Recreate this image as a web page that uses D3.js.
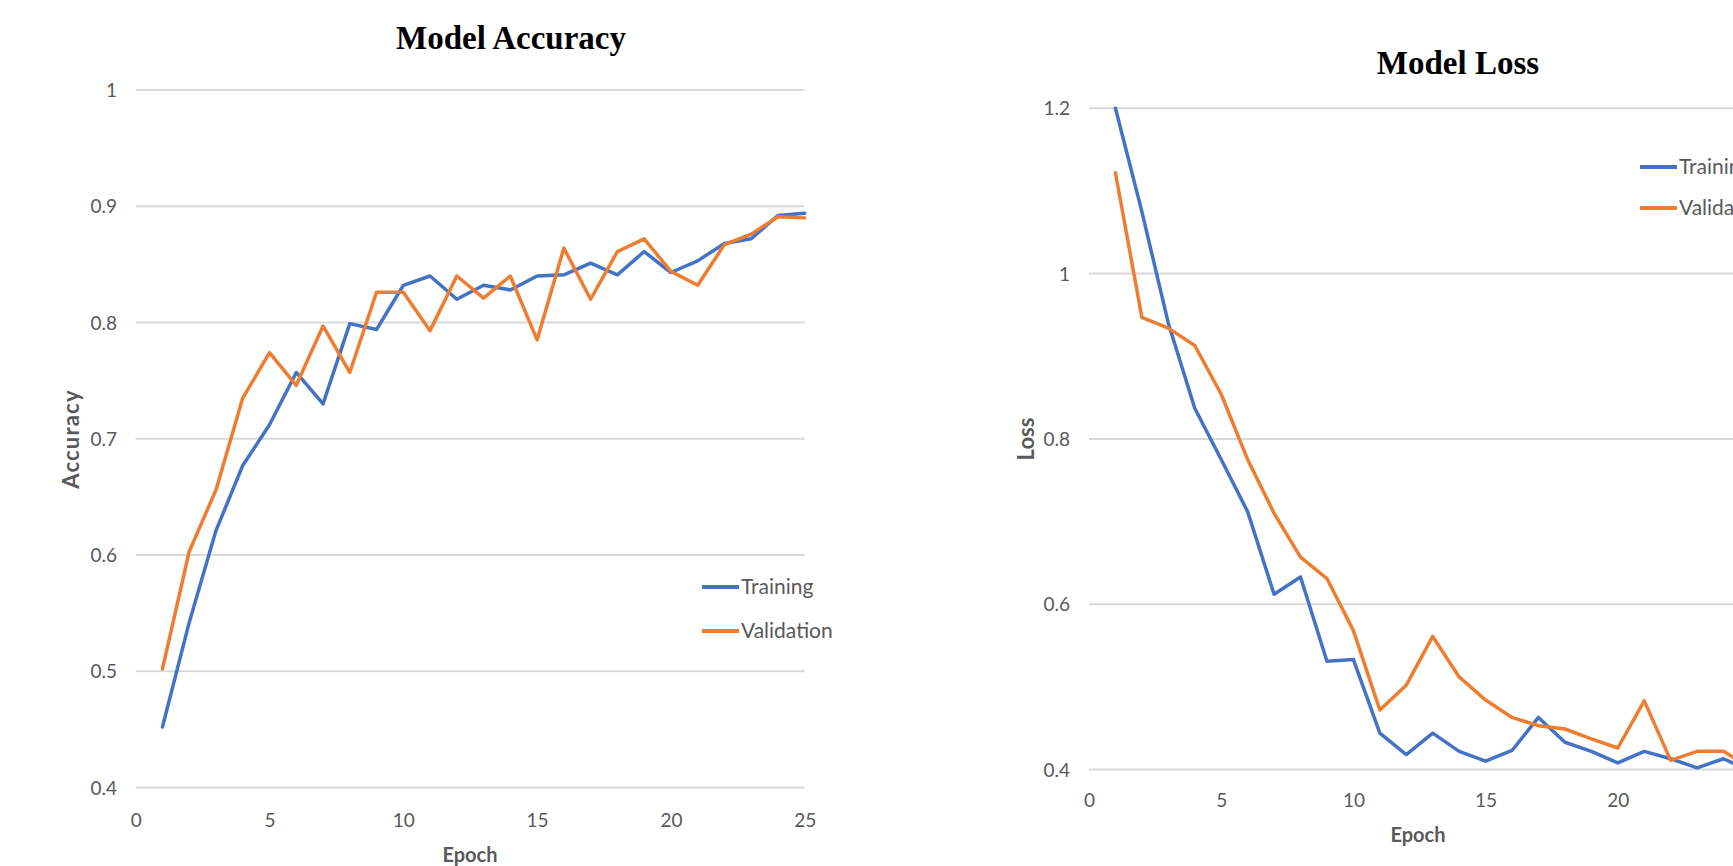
<!DOCTYPE html>
<html>
<head>
<meta charset="utf-8">
<script src="https://cdn.jsdelivr.net/npm/d3@7"></script>
<style>
  html, body { margin: 0; padding: 0; background: #ffffff; overflow: hidden; }
  svg { display: block; }
</style>
</head>
<body>
<svg id="chart" width="1733" height="866"></svg>
<script>
// ---------- data ----------
const epochs = d3.range(1, 26);
const accTraining = [0.452, 0.542, 0.621, 0.677, 0.712, 0.757, 0.730, 0.799, 0.794, 0.832,
                     0.840, 0.820, 0.832, 0.828, 0.840, 0.841, 0.851, 0.841, 0.861, 0.843,
                     0.853, 0.868, 0.872, 0.892, 0.894];
const accValidation = [0.502, 0.603, 0.656, 0.735, 0.774, 0.746, 0.797, 0.757, 0.826, 0.826,
                       0.793, 0.840, 0.821, 0.840, 0.785, 0.864, 0.820, 0.861, 0.872, 0.844,
                       0.832, 0.867, 0.876, 0.891, 0.890];
const lossTraining = [1.200, 1.075, 0.940, 0.837, 0.775, 0.712, 0.612, 0.633, 0.531, 0.533,
                      0.444, 0.418, 0.444, 0.422, 0.410, 0.423, 0.463, 0.433, 0.422, 0.408,
                      0.422, 0.413, 0.402, 0.413, 0.398];
const lossValidation = [1.122, 0.947, 0.934, 0.913, 0.854, 0.775, 0.710, 0.657, 0.631, 0.568,
                        0.472, 0.502, 0.561, 0.512, 0.484, 0.463, 0.453, 0.449, 0.437, 0.426,
                        0.483, 0.411, 0.422, 0.422, 0.402];
const xTicks = [0, 5, 10, 15, 20, 25];
const accTicks = [0.4, 0.5, 0.6, 0.7, 0.8, 0.9, 1];
const lossTicks = [0.4, 0.6, 0.8, 1, 1.2];
const seriesNames = ["Training", "Validation"];
const seriesColors = ["#4472C4", "#ED7D31"];

// ---------- drawing ----------
const svg = d3.select("#chart");
const tickFont = "Lato, 'Open Sans', sans-serif";
const gray = "#595959";

function drawPanel(cfg) {
  const g = svg.append("g");
  const x = d3.scaleLinear().domain([0, 25]).range([cfg.x0, cfg.x1]);
  const y = d3.scaleLinear().domain(cfg.yDomain).range([cfg.yBottom, cfg.yTop]);

  // gridlines
  g.append("g").selectAll("line").data(cfg.yTicks).join("line")
    .attr("x1", x(0)).attr("x2", x(25))
    .attr("y1", d => y(d)).attr("y2", d => y(d))
    .attr("stroke", "#d9d9d9").attr("stroke-width", 2);

  // y axis tick labels
  const yAxis = d3.axisLeft(y).tickValues(cfg.yTicks).tickSize(0).tickPadding(0)
    .tickFormat(d => String(d));
  const ya = g.append("g").attr("transform", `translate(${cfg.yLabelX},0)`).call(yAxis);
  ya.select(".domain").remove();
  ya.selectAll("text").attr("font-family", tickFont).attr("font-size", 19)
    .attr("fill", gray).attr("dy", "0.35em");

  // x axis tick labels
  const xAxis = d3.axisBottom(x).tickValues(xTicks).tickSize(0).tickPadding(0)
    .tickFormat(d => String(d));
  const xa = g.append("g").attr("transform", `translate(0,${cfg.xLabelY})`).call(xAxis);
  xa.select(".domain").remove();
  xa.selectAll("text").attr("font-family", tickFont).attr("font-size", 19)
    .attr("fill", gray).attr("dy", "0.35em");

  // lines
  const line = d3.line().x((d, i) => x(epochs[i])).y(d => y(d));
  cfg.series.forEach((s, i) => {
    g.append("path").datum(s).attr("d", line)
      .attr("fill", "none").attr("stroke", seriesColors[i])
      .attr("stroke-width", 3.5).attr("stroke-linejoin", "round").attr("stroke-linecap", "round");
  });

  // title
  g.append("text").attr("x", cfg.titleX).attr("y", cfg.titleY)
    .attr("text-anchor", "middle")
    .attr("font-family", "'Liberation Serif', 'Times New Roman', serif")
    .attr("font-weight", "bold").attr("font-size", 33).attr("fill", "#000")
    .text(cfg.title);

  // axis titles
  g.append("text").attr("x", cfg.xTitleX).attr("y", cfg.xTitleY)
    .attr("text-anchor", "middle").attr("font-family", tickFont)
    .attr("font-weight", "bold").attr("font-size", 20).attr("fill", gray)
    .text("Epoch");
  g.append("text")
    .attr("transform", `translate(${cfg.yTitleX},${cfg.yTitleY}) rotate(-90)`)
    .attr("text-anchor", "middle").attr("dy", "0.35em").attr("font-family", tickFont)
    .attr("font-weight", "bold").attr("font-size", 22).attr("fill", gray)
    .attr("letter-spacing", cfg.yTitleSpacing)
    .text(cfg.yTitle);

  // legend
  seriesNames.forEach((name, i) => {
    const ly = cfg.legendY + i * cfg.legendGap;
    g.append("line").attr("x1", cfg.legendX).attr("x2", cfg.legendX + 37)
      .attr("y1", ly).attr("y2", ly)
      .attr("stroke", seriesColors[i]).attr("stroke-width", 4);
    g.append("text").attr("x", cfg.legendX + 39).attr("y", ly).attr("dy", "0.35em")
      .attr("font-family", tickFont).attr("font-size", 21).attr("fill", gray)
      .text(name);
  });
}

drawPanel({
  x0: 135.7, x1: 804.7, yBottom: 787.5, yTop: 90, yDomain: [0.4, 1], yTicks: accTicks,
  yLabelX: 117, xLabelY: 820,
  series: [accTraining, accValidation],
  title: "Model Accuracy", titleX: 511, titleY: 49,
  xTitleX: 470, xTitleY: 862, yTitleX: 71, yTitleY: 439, yTitle: "Accuracy", yTitleSpacing: 1.2,
  legendX: 702, legendY: 587, legendGap: 44
});

drawPanel({
  x0: 1089, x1: 1750, yBottom: 769.5, yTop: 108.3, yDomain: [0.4, 1.2], yTicks: lossTicks,
  yLabelX: 1070, xLabelY: 800,
  series: [lossTraining, lossValidation],
  title: "Model Loss", titleX: 1458, titleY: 74,
  xTitleX: 1418, xTitleY: 842, yTitleX: 1026, yTitleY: 439, yTitle: "Loss", yTitleSpacing: 0,
  legendX: 1640, legendY: 167, legendGap: 41
});
</script>
</body>
</html>
